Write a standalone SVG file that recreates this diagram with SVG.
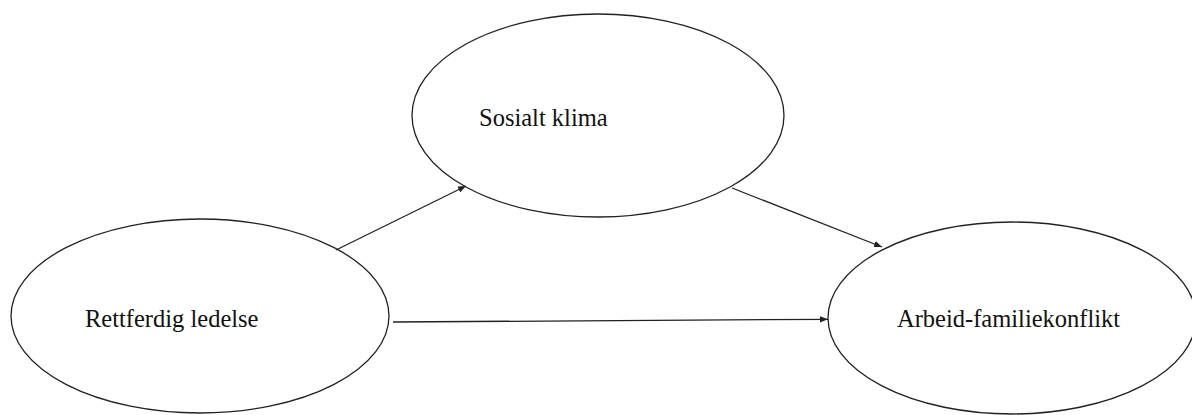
<svg xmlns="http://www.w3.org/2000/svg" width="1192" height="415" viewBox="0 0 1192 415">
  <style>
    .node ellipse { fill: #ffffff; stroke: #222222; stroke-width: 1.3; }
    .label { font-family: "Liberation Serif", "Times New Roman", serif; font-size: 24.5px; fill: #111111; }
    .edge { stroke: #222222; stroke-width: 1.3; fill: none; marker-end: url(#arrow); }
  </style>
  <defs>
    <marker id="arrow" viewBox="0 0 10 8" refX="10" refY="4" markerWidth="8" markerHeight="6.4" markerUnits="userSpaceOnUse" orient="auto">
      <path d="M0,0 L10,4 L0,8 Z" fill="#222222"/>
    </marker>
  </defs>
  <rect width="1192" height="415" fill="#ffffff"/>
  <g id="node-rettferdig" class="node">
    <ellipse cx="200" cy="316" rx="189" ry="97"/>
    <text class="label" x="85" y="327">Rettferdig ledelse</text>
  </g>
  <g id="node-sosialt" class="node">
    <ellipse cx="598" cy="115.5" rx="186" ry="101.5"/>
    <text class="label" x="479" y="126">Sosialt klima</text>
  </g>
  <g id="node-arbeid" class="node">
    <ellipse cx="1012" cy="318" rx="184" ry="96"/>
    <text class="label" x="897" y="327">Arbeid-familiekonflikt</text>
  </g>
  <g id="connectors">
    <line class="edge" x1="336" y1="250" x2="466" y2="186"/>
    <line class="edge" x1="732" y1="188" x2="882" y2="247"/>
    <line class="edge" x1="393" y1="322" x2="828" y2="319.3"/>
  </g>
</svg>
